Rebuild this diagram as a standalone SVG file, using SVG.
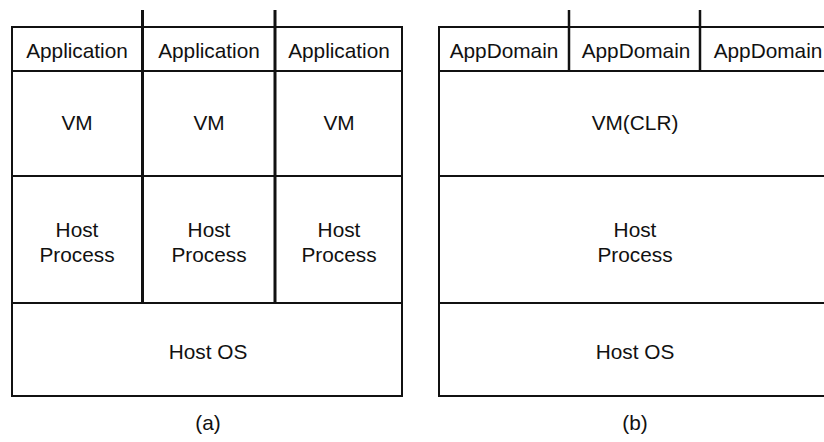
<svg xmlns="http://www.w3.org/2000/svg" width="824" height="442" viewBox="0 0 824 442">
<style>
.b{fill:none;stroke:#111;stroke-width:2}
.d{stroke:#111;stroke-width:3;fill:none}
.d2{stroke:#111;stroke-width:2.5;fill:none}
text{font-family:"Liberation Sans",Arial,sans-serif;font-size:20.8px;fill:#111;text-anchor:middle}
</style>
<rect width="824" height="442" fill="#fff"/>
<g id="panel-a">
<rect class="b" x="12" y="27" width="390" height="369"/>
<line class="b" x1="12" y1="71" x2="402" y2="71"/>
<line class="b" x1="12" y1="176" x2="402" y2="176"/>
<line class="b" x1="12" y1="303" x2="402" y2="303"/>
<line class="d" x1="142.5" y1="10" x2="142.5" y2="303"/>
<line class="d" x1="275" y1="10" x2="275" y2="303"/>
</g>
<g id="a-app1"><text x="77" y="58">Application</text></g>
<g id="a-app2"><text x="209" y="58">Application</text></g>
<g id="a-app3"><text x="339" y="58">Application</text></g>
<g id="a-vm1"><text x="77" y="130">VM</text></g>
<g id="a-vm2"><text x="209" y="130">VM</text></g>
<g id="a-vm3"><text x="339" y="130">VM</text></g>
<g id="a-hp1"><text x="77" y="237">Host</text><text x="77" y="262">Process</text></g>
<g id="a-hp2"><text x="209" y="237">Host</text><text x="209" y="262">Process</text></g>
<g id="a-hp3"><text x="339" y="237">Host</text><text x="339" y="262">Process</text></g>
<g id="a-os"><text x="208" y="359">Host OS</text></g>
<g id="a-label"><text x="208" y="430">(a)</text></g>
<g id="panel-b">
<rect class="b" x="439" y="27" width="400" height="369"/>
<line class="b" x1="439" y1="71" x2="824" y2="71"/>
<line class="b" x1="439" y1="176" x2="824" y2="176"/>
<line class="b" x1="439" y1="303" x2="824" y2="303"/>
<line class="d2" x1="569" y1="10" x2="569" y2="71"/>
<line class="d2" x1="700" y1="10" x2="700" y2="71"/>
</g>
<g id="b-ad1"><text x="504" y="58">AppDomain</text></g>
<g id="b-ad2"><text x="636" y="58">AppDomain</text></g>
<g id="b-ad3"><text x="768" y="58">AppDomain</text></g>
<g id="b-vm"><text x="635" y="130">VM(CLR)</text></g>
<g id="b-hp"><text x="635" y="237">Host</text><text x="635" y="262">Process</text></g>
<g id="b-os"><text x="635" y="359">Host OS</text></g>
<g id="b-label"><text x="635" y="430">(b)</text></g>
</svg>
